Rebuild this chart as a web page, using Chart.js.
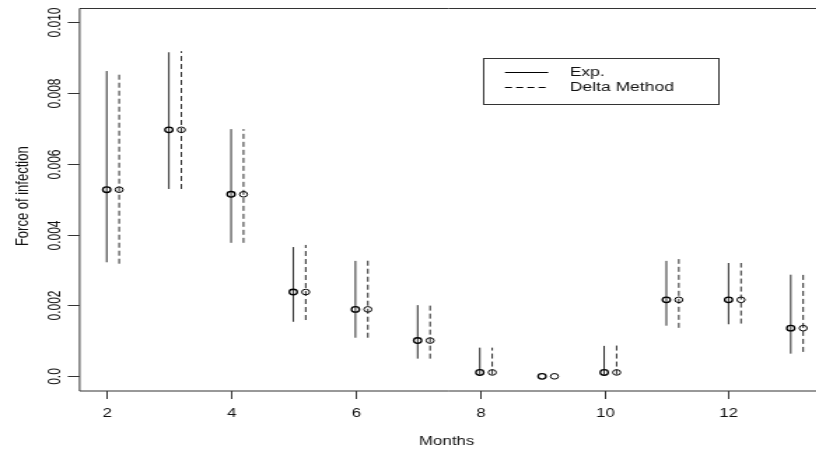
<!DOCTYPE html>
<html>
<head>
<meta charset="utf-8">
<script src="https://cdn.jsdelivr.net/npm/chart.js@4/dist/chart.umd.min.js"></script>
<style>
  html, body { margin: 0; padding: 0; background: #ffffff; overflow: hidden; }
  #wrap { position: absolute; left: 0; top: 0; width: 583px; height: 455px;
          transform: scaleX(1.4); transform-origin: 0 0; }
</style>
</head>
<body>
<div id="wrap"><canvas id="c" width="583" height="455"></canvas></div>
<script>
// ---- data ----
const months      = [2, 3, 4, 5, 6, 7, 8, 9, 10, 11, 12, 13];
const expEst      = [0.00527, 0.00696, 0.00514, 0.00238, 0.00189, 0.00101, 0.00011, 0.0, 0.00011, 0.00216, 0.00216, 0.00136];
const expLower    = [0.00322, 0.00529, 0.00377, 0.00154, 0.00109, 0.00050, 0.00005, 0.0, 0.00005, 0.00143, 0.00147, 0.00064];
const expUpper    = [0.00862, 0.00915, 0.00698, 0.00365, 0.00326, 0.00201, 0.00081, 0.0, 0.00086, 0.00326, 0.00320, 0.00287];
const deltaEst    = [0.00527, 0.00696, 0.00514, 0.00238, 0.00189, 0.00101, 0.00011, 0.0, 0.00011, 0.00216, 0.00216, 0.00136];
const deltaLower  = [0.00318, 0.00529, 0.00377, 0.00159, 0.00109, 0.00050, 0.00005, 0.0, 0.00005, 0.00137, 0.00149, 0.00069];
const deltaUpper  = [0.00859, 0.00918, 0.00698, 0.00371, 0.00331, 0.00201, 0.00081, 0.0, 0.00092, 0.00331, 0.00320, 0.00290];
const xTicks      = [2, 4, 6, 8, 10, 12];
const yTicks      = [0, 0.002, 0.004, 0.006, 0.008, 0.010];
const yTickLabels = ["0.0", "0.002", "0.004", "0.006", "0.008", "0.010"];
const seriesNames = ["Exp.", "Delta Method"];
const xTitle = "Months";
const yTitle = "Force of infection";
const deltaOffset = 0.2;

const FAMILY = "'Liberation Sans', Arial, Helvetica, sans-serif";
const FONT = "12px " + FAMILY;
const TITLE_FONT = "13px " + FAMILY;
const LEGEND_FONT = "12.5px " + FAMILY;

const expPts   = months.map((m, i) => ({ x: m, y: expEst[i] }));
const deltaPts = months.map((m, i) => ({ x: m + deltaOffset, y: deltaEst[i] }));

const rPlot = {
  id: 'rPlot',
  beforeDatasetsDraw(chart) {
    const ctx = chart.ctx, xs = chart.scales.x, ys = chart.scales.y;
    ctx.save();
    ctx.strokeStyle = '#000';
    ctx.lineWidth = 0.85;
    months.forEach((m, i) => {
      const x1 = xs.getPixelForValue(m);
      ctx.setLineDash([]);
      ctx.beginPath();
      ctx.moveTo(x1, ys.getPixelForValue(expLower[i]));
      ctx.lineTo(x1, ys.getPixelForValue(expUpper[i]));
      ctx.stroke();
      const x2 = xs.getPixelForValue(m + deltaOffset);
      ctx.setLineDash([5, 3]);
      ctx.beginPath();
      ctx.moveTo(x2, ys.getPixelForValue(deltaLower[i]));
      ctx.lineTo(x2, ys.getPixelForValue(deltaUpper[i]));
      ctx.stroke();
    });
    ctx.restore();
  },
  afterDraw(chart) {
    const ctx = chart.ctx, xs = chart.scales.x, ys = chart.scales.y, a = chart.chartArea;
    ctx.save();
    // box
    ctx.strokeStyle = '#333';
    ctx.lineWidth = 1;
    ctx.setLineDash([]);
    ctx.beginPath();
    ctx.moveTo(chart.width + 2, a.top + 0.5);
    ctx.lineTo(a.left + 0.5, a.top + 0.5);
    ctx.lineTo(a.left + 0.5, a.bottom + 0.5);
    ctx.lineTo(chart.width + 2, a.bottom + 0.5);
    ctx.stroke();
    // y axis ticks + labels
    ctx.fillStyle = '#111';
    ctx.font = FONT;
    yTicks.forEach((v, i) => {
      const y = Math.round(ys.getPixelForValue(v)) + 0.5;
      ctx.beginPath();
      ctx.moveTo(a.left + 0.5, y);
      ctx.lineTo(a.left - 8, y);
      ctx.stroke();
      ctx.save();
      ctx.translate(a.left - 17, y);
      ctx.rotate(-Math.PI / 2);
      ctx.textAlign = 'center';
      ctx.textBaseline = 'middle';
      ctx.fillText(yTickLabels[i], 0, 0);
      ctx.restore();
    });
    // x axis ticks + labels
    xTicks.forEach(v => {
      const x = Math.round(xs.getPixelForValue(v)) + 0.5;
      ctx.beginPath();
      ctx.moveTo(x, a.bottom + 0.5);
      ctx.lineTo(x, a.bottom + 8.5);
      ctx.stroke();
      ctx.textAlign = 'center';
      ctx.textBaseline = 'middle';
      ctx.fillText(String(v), x, a.bottom + 23);
    });
    // titles
    ctx.textAlign = 'center';
    ctx.textBaseline = 'middle';
    ctx.fillText(xTitle, (a.left + a.right) / 2 + 2, a.bottom + 51);
    ctx.save();
    ctx.font = TITLE_FONT;
    ctx.translate(16.5, (a.top + a.bottom) / 2 - 3);
    ctx.rotate(-Math.PI / 2);
    ctx.fillText(yTitle, 0, 0);
    ctx.restore();
    // legend
    const lx = 345.5, ly = 58.5, lw = 168, lh = 46;
    ctx.strokeStyle = '#333';
    ctx.strokeRect(lx, ly, lw, lh);
    ctx.strokeStyle = '#000';
    ctx.beginPath();
    ctx.moveTo(360.7, 72.5); ctx.lineTo(391.6, 72.5); ctx.stroke();
    ctx.setLineDash([5, 3]);
    ctx.beginPath();
    ctx.moveTo(360.7, 87.5); ctx.lineTo(391.6, 87.5); ctx.stroke();
    ctx.setLineDash([]);
    ctx.font = LEGEND_FONT;
    ctx.textAlign = 'left';
    ctx.fillStyle = '#111';
    ctx.fillText(seriesNames[0], 407, 73);
    ctx.fillText(seriesNames[1], 407, 88);
    ctx.restore();
  }
};

new Chart(document.getElementById('c'), {
  type: 'scatter',
  data: {
    datasets: [
      { label: seriesNames[0], data: expPts, pointStyle: 'circle', pointRadius: 2.8,
        pointBorderWidth: 1.3, pointBorderColor: '#000', pointBackgroundColor: 'rgba(0,0,0,0)', showLine: false },
      { label: seriesNames[1], data: deltaPts, pointStyle: 'circle', pointRadius: 2.8,
        pointBorderWidth: 1, pointBorderColor: '#000', pointBackgroundColor: 'rgba(0,0,0,0)', showLine: false }
    ]
  },
  options: {
    responsive: false,
    animation: false,
    events: [],
    layout: { padding: { left: 56.4, right: 0, top: 8, bottom: 64.5 } },
    plugins: { legend: { display: false }, tooltip: { enabled: false } },
    scales: {
      x: { type: 'linear', display: false, min: 1.554, max: 13.29 },
      y: { type: 'linear', display: false, min: -0.0004, max: 0.0104 }
    }
  },
  plugins: [rPlot]
});
</script>
</body>
</html>
